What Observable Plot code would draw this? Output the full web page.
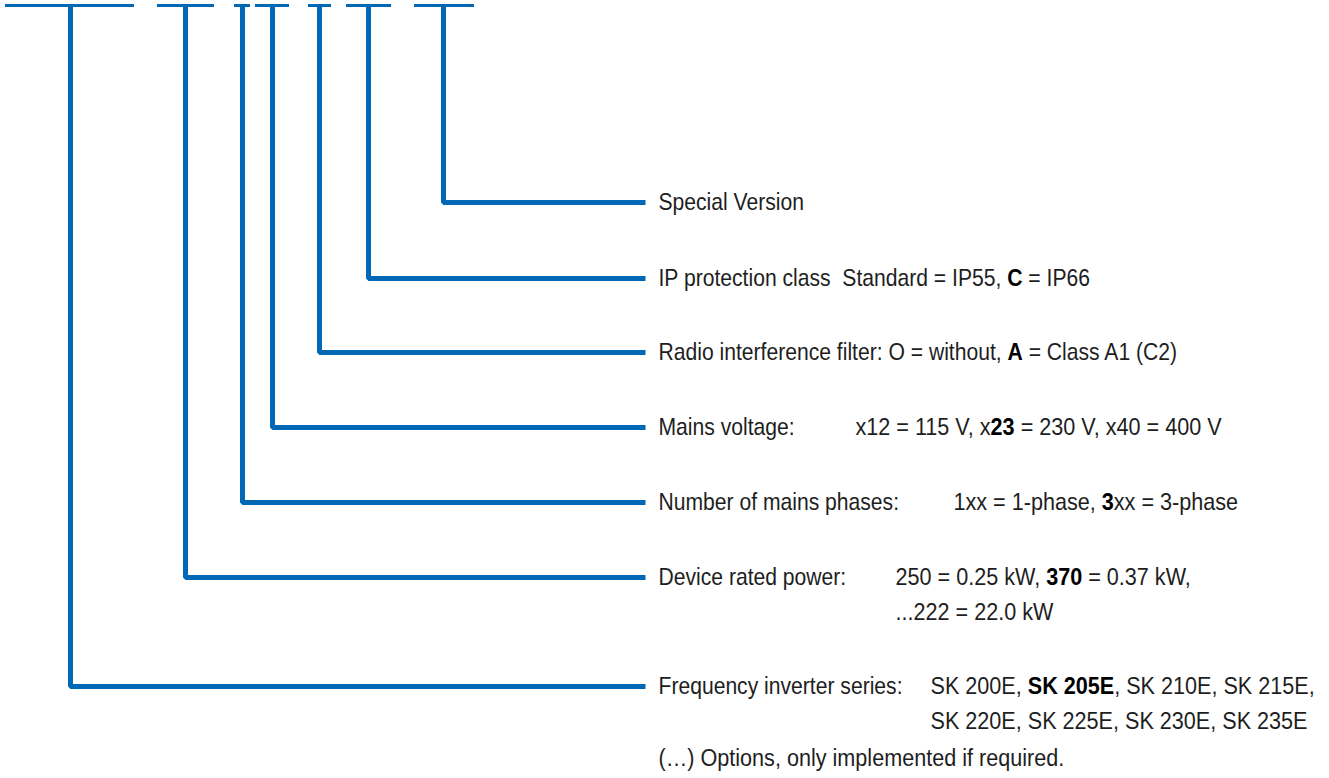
<!DOCTYPE html>
<html><head><meta charset="utf-8">
<script src="https://cdn.jsdelivr.net/npm/d3@7"></script>
<script src="https://cdn.jsdelivr.net/npm/@observablehq/plot@0.6"></script>
<style>body{margin:0;background:#fff} svg text{white-space:pre}</style>
</head><body><div id="chart"></div>
<script>
// Type-code fields (top to bottom)
const fields = ["Special Version", "IP protection class", "Radio interference filter", "Mains voltage", "Number of mains phases", "Device rated power", "Frequency inverter series"];
const labels = [
  "Special Version",
  "IP protection class  Standard = IP55, **C** = IP66",
  "Radio interference filter: O = without, **A** = Class A1 (C2)",
  "Mains voltage:",
  "Number of mains phases:",
  "Device rated power:",
  "Frequency inverter series:"
];
// code slot of each field along the type-code line
const slotCenter = [443, 368, 319, 272, 242, 185, 70];
const slotFrom   = [414, 346, 308, 255, 234, 157, 5];
const slotTo     = [474, 391, 331, 289, 250, 214, 134];
const rowPos     = [202, 278, 352, 427, 502, 577, 686];
// value texts
const valueTexts = [
  "x12 = 115 V, x**23** = 230 V, x40 = 400 V",
  "1xx = 1-phase, **3**xx = 3-phase",
  "250 = 0.25 kW, **370** = 0.37 kW,",
  "...222 = 22.0 kW",
  "SK 200E, **SK 205E**, SK 210E, SK 215E,",
  "SK 220E, SK 225E, SK 230E, SK 235E"
];
const valueCol = [855, 953, 895, 895, 930, 930];
const valueRow = [427, 502, 577, 612, 686, 721];
const footnote = "(…) Options, only implemented if required.";

const W = 1329, H = 778, TOP = 5, LEAD_END = 645, TEXT_X = 658, FOOT_Y = 758;
const blue = "#0068b4", ink = "#1e1e1e", font = "'Liberation Sans', Arial, sans-serif";
const CONDENSE_LABEL = 0.88, CONDENSE_VALUE = 0.9;

const bars = fields.map((f, i) => ({f, x1: slotFrom[i], x2: slotTo[i], y: TOP}));
const paths = fields.flatMap((f, i) => [
  {f, x: slotCenter[i], y: TOP},
  {f, x: slotCenter[i], y: rowPos[i]},
  {f, x: LEAD_END, y: rowPos[i]}
]);
const labelRows = fields.map((f, i) => ({text: labels[i], x: TEXT_X, y: rowPos[i]}));
const valueRows = valueTexts.map((t, i) => ({text: t, x: valueCol[i], y: valueRow[i]}));
valueRows.push({text: footnote, x: TEXT_X, y: FOOT_Y});

const chart = Plot.plot({
  width: W, height: H, margin: 0,
  x: {domain: [0, W], range: [0, W], axis: null},
  y: {domain: [0, H], range: [0, H], axis: null},
  style: {background: "#fff"},
  marks: [
    Plot.ruleY(bars, {x1: "x1", x2: "x2", y: "y", stroke: blue, strokeWidth: 3}),
    Plot.line(paths, {x: "x", y: "y", z: "f", stroke: blue, strokeWidth: 5, strokeLinejoin: "miter", strokeLinecap: "butt"}),
    Plot.text(labelRows, {x: "x", y: "y", text: "text", textAnchor: "start", fill: ink, fontSize: 24, fontFamily: font, className: "lbl"}),
    Plot.text(valueRows, {x: "x", y: "y", text: "text", textAnchor: "start", fill: ink, fontSize: 24, fontFamily: font, className: "val"})
  ]
});
document.getElementById("chart").appendChild(chart);

// render **bold** segments as bold tspans, and condense glyphs horizontally
function finish(selector, k) {
  d3.select(chart).selectAll(selector + " text").each(function() {
    const tr = this.getAttribute("transform");
    if (tr) this.setAttribute("transform", tr + ` scale(${k},1)`);
    const t = this.textContent;
    if (!t.includes("**")) return;
    const sel = d3.select(this);
    sel.text(null);
    t.split("**").forEach((part, j) => {
      if (!part) return;
      const ts = sel.append("tspan").text(part);
      if (j % 2 === 1) ts.attr("font-weight", "bold").attr("fill", "#000");
    });
  });
}
finish(".lbl", CONDENSE_LABEL);
finish(".val", CONDENSE_VALUE);
</script></body></html>
